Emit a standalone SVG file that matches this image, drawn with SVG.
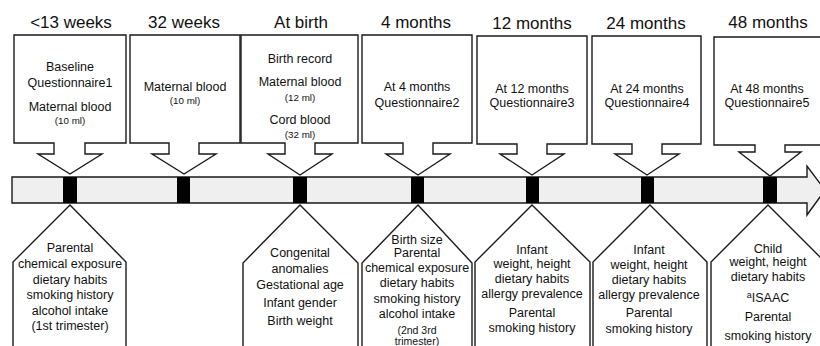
<svg xmlns="http://www.w3.org/2000/svg" width="820" height="346" viewBox="0 0 820 346">
<style>
.box{fill:#fff;stroke:#1a1a1a;stroke-width:1.4;stroke-linejoin:miter}
.hd{font-family:"Liberation Sans",Arial,sans-serif;font-size:17px;fill:#111;text-anchor:middle}
.t{font-family:"Liberation Sans",Arial,sans-serif;font-size:12.5px;fill:#111;text-anchor:middle}
.s{font-family:"Liberation Sans",Arial,sans-serif;font-size:9.8px;fill:#111;text-anchor:middle}
.m{fill:#000}
</style>
<rect width="820" height="346" fill="#fff"/>
<g id="headers">
<text class="hd" x="71" y="28">&lt;13 weeks</text>
<text class="hd" x="184" y="28">32 weeks</text>
<text class="hd" x="301" y="28">At birth</text>
<text class="hd" x="416" y="28">4 months</text>
<text class="hd" x="532" y="29">12 months</text>
<text class="hd" x="646" y="29">24 months</text>
<text class="hd" x="768" y="28">48 months</text>
</g>
<g id="connectors">
<path class="box" d="M12,177 H807 V166 L825,190 L807,215 V203 H12 Z" style="fill:#efefef"/>
<rect class="m" x="63" y="177" width="14" height="26"/>
<rect class="m" x="177" y="177" width="13" height="26"/>
<rect class="m" x="293" y="177" width="14" height="26"/>
<rect class="m" x="411" y="177" width="13" height="26"/>
<rect class="m" x="526" y="177" width="13" height="26"/>
<rect class="m" x="641" y="177" width="13" height="26"/>
<rect class="m" x="763" y="177" width="14" height="26"/>
</g>
<g id="top1">
<path class="box" d="M14,35 H126 V143 H85 V154 H102 L70,174 L38,154 H54 V143 H14 Z"/>
<text class="t" x="70" y="70.5">Baseline</text>
<text class="t" x="70" y="87">Questionnaire1</text>
<text class="t" x="70" y="111">Maternal blood</text>
<text class="s" x="70" y="124">(10 ml)</text>
</g>
<g id="top2">
<path class="box" d="M130,35 H240 V143 H199 V154 H216 L184,174 L152,154 H169 V143 H130 Z"/>
<text class="t" x="185" y="91">Maternal blood</text>
<text class="s" x="185" y="104">(10 ml)</text>
</g>
<g id="top3">
<path class="box" d="M241,35 H358 V143 H315 V154 H332 L300,175 L268,154 H285 V143 H241 Z"/>
<text class="t" x="300" y="63">Birth record</text>
<text class="t" x="300" y="86">Maternal blood</text>
<text class="s" x="300" y="101">(12 ml)</text>
<text class="t" x="300" y="124">Cord blood</text>
<text class="s" x="300" y="138">(32 ml)</text>
</g>
<g id="top4">
<path class="box" d="M362,35 H472 V143 H433 V154 H450 L418,175 L386,154 H403 V143 H362 Z"/>
<text class="t" x="417" y="90.5">At 4 months</text>
<text class="t" x="417" y="107">Questionnaire2</text>
</g>
<g id="top5">
<path class="box" d="M477,36 H587 V144 H547 V154 H564 L532,175 L500,154 H517 V144 H477 Z"/>
<text class="t" x="532" y="93">At 12 months</text>
<text class="t" x="532" y="107">Questionnaire3</text>
</g>
<g id="top6">
<path class="box" d="M592,36 H701 V144 H662 V154 H679 L647,175 L615,154 H632 V144 H592 Z"/>
<text class="t" x="647" y="93">At 24 months</text>
<text class="t" x="647" y="107">Questionnaire4</text>
</g>
<g id="top7">
<path class="box" d="M714,37 H830 V145 H785 V152 H801 L770,176 L739,152 H755 V145 H714 Z"/>
<text class="t" x="767" y="93">At 48 months</text>
<text class="t" x="767" y="107">Questionnaire5</text>
</g>
<g id="bot1">
<path class="box" d="M70,205 L126,262 V350 H13 V262 Z"/>
<text class="t" x="70" y="252">Parental</text>
<text class="t" x="70" y="268">chemical exposure</text>
<text class="t" x="70" y="284">dietary habits</text>
<text class="t" x="70" y="299">smoking history</text>
<text class="t" x="70" y="315">alcohol intake</text>
<text class="t" x="70" y="330">(1st trimester)</text>
</g>
<g id="bot2">
<path class="box" d="M300,205 L358,263 V350 H243 V263 Z"/>
<text class="t" x="300" y="257">Congenital</text>
<text class="t" x="300" y="273">anomalies</text>
<text class="t" x="300" y="289">Gestational age</text>
<text class="t" x="300" y="307">Infant gender</text>
<text class="t" x="300" y="325">Birth weight</text>
</g>
<g id="bot3">
<path class="box" d="M418,205 L472,263 V350 H362 V263 Z"/>
<text class="t" x="417" y="243.5">Birth size</text>
<text class="t" x="417" y="257">Parental</text>
<text class="t" x="417" y="272">chemical exposure</text>
<text class="t" x="417" y="287">dietary habits</text>
<text class="t" x="417" y="303">smoking history</text>
<text class="t" x="417" y="318">alcohol intake</text>
<text class="s" x="417" y="334" style="font-size:10.5px">(2nd 3rd</text>
<text class="s" x="417" y="345" style="font-size:10.5px">trimester)</text>
</g>
<g id="bot4">
<path class="box" d="M532,205 L590,262 V350 H475 V262 Z"/>
<text class="t" x="532" y="254">Infant</text>
<text class="t" x="532" y="268">weight, height</text>
<text class="t" x="532" y="283">dietary habits</text>
<text class="t" x="532" y="298">allergy prevalence</text>
<text class="t" x="532" y="317">Parental</text>
<text class="t" x="532" y="332">smoking history</text>
</g>
<g id="bot5">
<path class="box" d="M650,205 L707,262 V350 H593 V262 Z"/>
<text class="t" x="649" y="254">Infant</text>
<text class="t" x="649" y="269">weight, height</text>
<text class="t" x="649" y="284">dietary habits</text>
<text class="t" x="649" y="299">allergy prevalence</text>
<text class="t" x="649" y="317">Parental</text>
<text class="t" x="649" y="333">smoking history</text>
</g>
<g id="bot6">
<path class="box" d="M768,205 L826,263 V350 H711 V262 Z"/>
<text class="t" x="768" y="253">Child</text>
<text class="t" x="768" y="266">weight, height</text>
<text class="t" x="768" y="281">dietary habits</text>
<text class="t" x="768" y="302"><tspan style="font-size:9px" dy="-4">a</tspan><tspan dy="4">ISAAC</tspan></text>
<text class="t" x="768" y="321">Parental</text>
<text class="t" x="768" y="340">smoking history</text>
</g>
</svg>
